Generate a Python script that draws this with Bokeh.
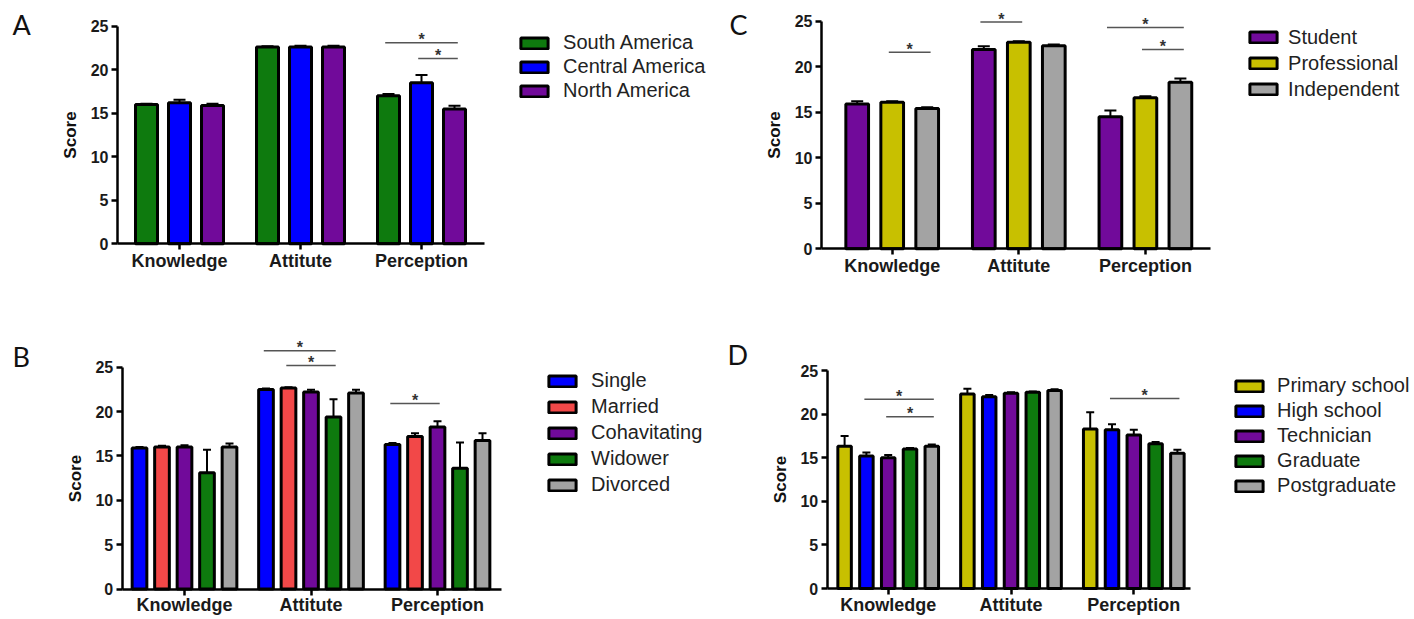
from bokeh.plotting import figure
from bokeh.models import (Range1d, FixedTicker, Legend, LegendItem,
                          ColumnDataSource, Whisker, TeeHead)
from bokeh.layouts import column, row
from bokeh.embed import file_html
from bokeh.resources import INLINE
from bokeh.core.properties import value

# ---------------- data ----------------
categories = ["Knowledge", "Attitute", "Perception"]
y_ticks = [0, 5, 10, 15, 20, 25]

# Panel A (region)
a_groups = ["South America", "Central America", "North America"]
a_south = [16.0, 22.6, 17.0]
a_south_err = [0.1, 0.1, 0.2]
a_central = [16.2, 22.6, 18.5]
a_central_err = [0.35, 0.15, 0.9]
a_north = [15.9, 22.6, 15.5]
a_north_err = [0.2, 0.15, 0.35]
# (category index, bar i, bar j, height)
a_sig = [(2, 0, 2, 23.1), (2, 1, 2, 21.3)]

# Panel B (marital status)
b_groups = ["Single", "Married", "Cohavitating", "Widower", "Divorced"]
b_single = [15.9, 22.5, 16.3]
b_single_err = [0.1, 0.1, 0.15]
b_married = [16.0, 22.65, 17.2]
b_married_err = [0.15, 0.1, 0.35]
b_cohab = [16.0, 22.2, 18.25]
b_cohab_err = [0.2, 0.25, 0.65]
b_widower = [13.1, 19.4, 13.6]
b_widower_err = [2.6, 2.0, 2.9]
b_divorced = [16.0, 22.1, 16.75]
b_divorced_err = [0.4, 0.35, 0.8]
b_sig = [(1, 0, 3, 26.85), (1, 1, 3, 25.2), (2, 0, 2, 20.9)]

# Panel C (occupation)
c_groups = ["Student", "Professional", "Independent"]
c_student = [15.9, 21.9, 14.5]
c_student_err = [0.3, 0.35, 0.7]
c_prof = [16.1, 22.7, 16.6]
c_prof_err = [0.1, 0.1, 0.15]
c_indep = [15.4, 22.3, 18.3]
c_indep_err = [0.15, 0.15, 0.4]
c_sig = [(0, 1, 2, 21.6), (1, 0, 1, 24.9), (2, 0, 2, 24.3), (2, 1, 2, 21.9)]

# Panel D (education)
d_groups = ["Primary school", "High school", "Technician", "Graduate", "Postgraduate"]
d_primary = [16.3, 22.3, 18.3]
d_primary_err = [1.2, 0.6, 1.9]
d_high = [15.2, 22.0, 18.2]
d_high_err = [0.4, 0.2, 0.65]
d_tech = [15.0, 22.4, 17.6]
d_tech_err = [0.3, 0.1, 0.6]
d_grad = [16.0, 22.5, 16.6]
d_grad_err = [0.1, 0.1, 0.2]
d_post = [16.3, 22.7, 15.5]
d_post_err = [0.2, 0.15, 0.4]
d_sig = [(0, 1, 4, 21.7), (0, 2, 4, 19.7), (2, 1, 4, 21.8)]

# ---------------- style ----------------
GREEN = "#0e7a0e"
BLUE = "#0000ff"
PURPLE = "#710a9a"
RED = "#f24848"
YELLOW = "#c8c000"
GREY = "#a3a3a3"
LW = 3
FONT = "Liberation Sans"

# geometry in page pixels
GEOM = {
    "A": dict(fig=(0, 0, 706, 308), axis_x=117, cat0=179, spacing=121, xend=484,
              y0=243.3, y25=25.7, bar_pitch=33, bar_outer=25,
              leg_swatch=519, leg_row0=41.7, leg_pitch=24.5, leg_text=563,
              letter=(12, 24), xstand=1),
    "C": dict(fig=(706, 0, 706, 308), axis_x=821, cat0=891.7, spacing=126.6, xend=1210,
              y0=248.3, y25=20.7, bar_pitch=35, bar_outer=25.7,
              leg_swatch=1248, leg_row0=36.7, leg_pitch=26.3, leg_text=1288,
              letter=(729, 24), xstand=1),
    "B": dict(fig=(0, 308, 706, 310), axis_x=121.7, cat0=184, spacing=126.5, xend=501,
              y0=588.5, y25=366.7, bar_pitch=22.5, bar_outer=17.7,
              leg_swatch=547, leg_row0=382.7, leg_pitch=25.6, leg_text=591,
              letter=(12, 356), xstand=0),
    "D": dict(fig=(706, 308, 706, 310), axis_x=826.7, cat0=887.7, spacing=122.8, xend=1190,
              y0=588, y25=370, bar_pitch=21.8, bar_outer=16.5,
              leg_swatch=1234, leg_row0=386.7, leg_pitch=24.8, leg_text=1277,
              letter=(727, 354), xstand=0),
}


def make_panel(letter, groups, means, errs, colors, sigs):
    g = GEOM[letter]
    fl, ft, fw, fh = g["fig"]
    ax, c0, sp = g["axis_x"], g["cat0"], g["spacing"]
    y0 = g["y0"]
    ppu = (y0 - g["y25"]) / 25.0
    # the plotting frame covers the whole figure; axes are placed at fixed locations
    x_lo = (fl - c0) / sp
    x_hi = (fl + fw - c0) / sp
    y_lo = (y0 - (ft + fh)) / ppu
    y_hi = (y0 - ft) / ppu
    x_axis_pos = (ax - c0) / sp

    p = figure(width=fw, height=fh, x_range=Range1d(x_lo, x_hi),
               y_range=Range1d(y_lo, y_hi), output_backend="svg",
               toolbar_location=None, min_border=0, min_border_left=0,
               min_border_right=0, min_border_top=0, min_border_bottom=0)
    p.outline_line_color = None
    p.grid.visible = False
    p.background_fill_color = "white"
    p.border_fill_color = "white"

    n = len(groups)
    pitch = g["bar_pitch"] / sp
    bw = (g["bar_outer"] - LW) / sp
    cap_px = max(8, round((g["bar_outer"] - LW) * 0.55))
    items = []
    for j, (grp, m, e, col) in enumerate(zip(groups, means, errs, colors)):
        off = (j - (n - 1) / 2) * pitch
        xs = [i + off for i in range(len(categories))]
        src = ColumnDataSource(dict(x=xs, top=m, upper=[a + b for a, b in zip(m, e)]))
        r = p.vbar(x="x", top="top", bottom=0, width=bw, source=src,
                   fill_color=col, line_color="black", line_width=LW)
        p.add_layout(Whisker(source=src, base="x", lower="top", upper="upper",
                             dimension="height", line_color="black", line_width=2,
                             upper_head=TeeHead(size=cap_px, line_color="black", line_width=2),
                             lower_head=None))
        items.append(LegendItem(label=grp, renderers=[r]))

    # significance brackets
    sx0, sx1, sy, smid = [], [], [], []
    for (ci, i, j, h) in sigs:
        xi = ci + (i - (n - 1) / 2) * pitch - 0.15 * bw
        xj = ci + (j - (n - 1) / 2) * pitch + 0.15 * bw
        sx0.append(xi); sx1.append(xj); sy.append(h); smid.append((xi + xj) / 2)
    p.segment(x0=sx0, y0=sy, x1=sx1, y1=sy, line_color="#555555", line_width=1.5)
    p.text(x=smid, y=sy, text=["*"] * len(sigs), text_align="center",
           text_baseline="alphabetic", y_offset=-3, text_font=value(FONT),
           text_font_size="16px", text_font_style="bold", text_color="#333333")

    # axes
    p.xaxis.fixed_location = 0
    p.yaxis.fixed_location = x_axis_pos
    p.xaxis.ticker = FixedTicker(ticks=[0, 1, 2])
    p.xaxis.major_label_overrides = {float(i): c for i, c in enumerate(categories)}
    p.xaxis.bounds = (x_axis_pos, (g["xend"] - c0) / sp)
    p.yaxis.bounds = (0, 25)
    p.yaxis.ticker = FixedTicker(ticks=y_ticks)
    p.yaxis.axis_label = "Score"
    p.yaxis.axis_label_text_font = FONT
    p.yaxis.axis_label_text_font_size = "17px"
    p.yaxis.axis_label_text_font_style = "bold"
    p.yaxis.axis_label_text_color = "#111111"
    p.yaxis.axis_label_standoff = 8
    p.axis.minor_tick_line_color = None
    p.axis.axis_line_width = 2.5
    p.axis.axis_line_color = "black"
    p.axis.major_tick_line_width = 2.5
    p.axis.major_tick_line_color = "black"
    p.axis.major_tick_out = 6
    p.axis.major_tick_in = 0
    p.axis.major_label_text_font = FONT
    p.axis.major_label_text_font_style = "bold"
    p.axis.major_label_text_color = "#1a1a1a"
    p.yaxis.major_label_text_font_size = "16px"
    p.xaxis.major_label_text_font_size = "18px"
    p.xaxis.major_label_standoff = g["xstand"]
    p.yaxis.major_label_standoff = 3

    # legend
    lp = g["leg_pitch"]
    leg_top = g["leg_row0"] - lp / 2
    leg_bottom = leg_top + n * lp
    gw = 34
    lx0 = g["leg_swatch"] - (0.1 * gw - LW / 2)
    legend = Legend(items=items, location=(lx0 - fl, ft + fh - leg_bottom),
                    orientation="vertical", padding=0, margin=0, spacing=0,
                    glyph_width=gw, glyph_height=14, label_height=round(lp),
                    label_standoff=round(g["leg_text"] - (lx0 + gw)),
                    label_text_font=FONT, label_text_font_size="20px",
                    label_text_color="#222222", border_line_color=None,
                    background_fill_alpha=0)
    p.add_layout(legend)

    # panel letter
    lx, lyb = g["letter"]
    p.text(x=[(lx - c0) / sp], y=[(y0 - lyb) / ppu], text=[letter],
           text_font=value("Lato"), text_font_size="27px",
           text_baseline="alphabetic", text_align="left", text_color="#111111")
    return p


pA = make_panel("A", a_groups, [a_south, a_central, a_north],
                [a_south_err, a_central_err, a_north_err], [GREEN, BLUE, PURPLE], a_sig)
pC = make_panel("C", c_groups, [c_student, c_prof, c_indep],
                [c_student_err, c_prof_err, c_indep_err], [PURPLE, YELLOW, GREY], c_sig)
pB = make_panel("B", b_groups, [b_single, b_married, b_cohab, b_widower, b_divorced],
                [b_single_err, b_married_err, b_cohab_err, b_widower_err, b_divorced_err],
                [BLUE, RED, PURPLE, GREEN, GREY], b_sig)
pD = make_panel("D", d_groups, [d_primary, d_high, d_tech, d_grad, d_post],
                [d_primary_err, d_high_err, d_tech_err, d_grad_err, d_post_err],
                [YELLOW, BLUE, PURPLE, GREEN, GREY], d_sig)

layout = column(row(pA, pC, spacing=0), row(pB, pD, spacing=0), spacing=0)
open("out.html", "w").write(file_html(layout, INLINE))
